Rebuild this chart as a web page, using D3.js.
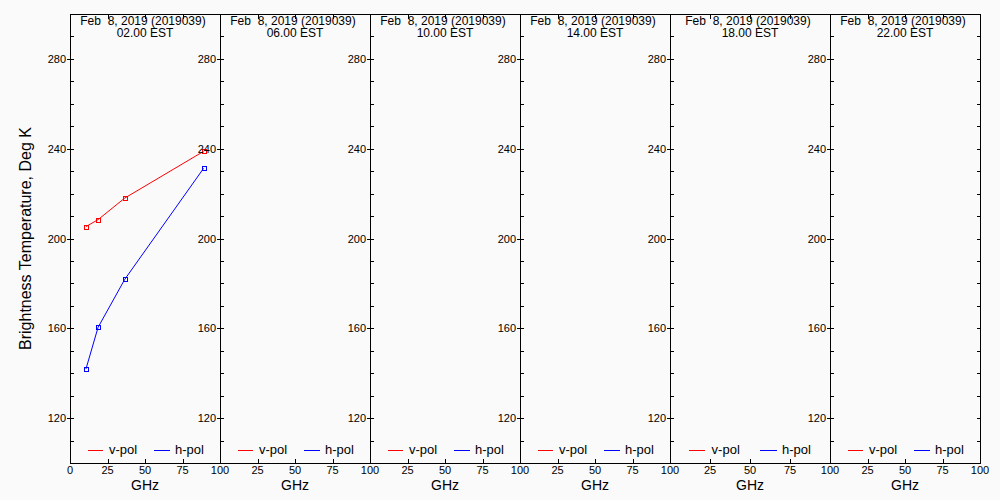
<!DOCTYPE html>
<html>
<head>
<meta charset="utf-8">
<script src="https://cdnjs.cloudflare.com/ajax/libs/d3/7.8.5/d3.min.js"></script>
<style>
  body { margin: 0; background: #fafafa; }
  text { font-family: "Liberation Sans", Arial, sans-serif; fill: #000; }
</style>
</head>
<body>
<svg id="chart"></svg>
<script>
// data
var dateLabel = "Feb  8, 2019 (2019039)";
var times = ["02.00 EST", "06.00 EST", "10.00 EST", "14.00 EST", "18.00 EST", "22.00 EST"];
var freqs = [10.65, 18.7, 36.5, 89.0];
var vpol = [205.3, 208.4, 218.0, 238.8];
var hpol = [141.9, 160.4, 181.8, 231.2];
// only the first time slot has observations
var panelHasData = [true, false, false, false, false, false];
var xTicks = [0, 25, 50, 75, 100];
var yMajor = [120, 160, 200, 240, 280];

// basic settings
var width = 1000;
var height = 500;
var yTop = 14, yBot = 463;
var edges = [70, 220, 370, 520, 670, 830, 980];

var svg = d3.select("#chart")
    .attr("width", width)
    .attr("height", height);

svg.append("rect")
    .attr("width", width).attr("height", height)
    .attr("fill", "#fafafa");

var y = d3.scaleLinear().domain([100, 300]).range([yBot, yTop]);
var yMinor = d3.range(110, 300, 10);

times.forEach(function(t, i) {
    var x0 = edges[i], x1 = edges[i + 1];
    var x = d3.scaleLinear().domain([0, 100]).range([x0, x1]);
    var g = svg.append("g").attr("shape-rendering", "crispEdges");

    // frame lines
    g.append("line").attr("x1", x0 + 0.5).attr("x2", x0 + 0.5)
        .attr("y1", yTop).attr("y2", yBot + 1).attr("stroke", "#000");
    g.append("line").attr("x1", x0).attr("x2", x1 + 1)
        .attr("y1", yTop + 0.5).attr("y2", yTop + 0.5).attr("stroke", "#000");
    g.append("line").attr("x1", x0).attr("x2", x1 + 1)
        .attr("y1", yBot + 0.5).attr("y2", yBot + 0.5).attr("stroke", "#000");
    if (i == times.length - 1) {
        g.append("line").attr("x1", x1 + 0.5).attr("x2", x1 + 0.5)
            .attr("y1", yTop).attr("y2", yBot + 1).attr("stroke", "#000");
    }

    // y ticks on left axis (major ones cross the axis)
    g.selectAll(".ymin").data(yMinor).enter().append("line")
        .attr("x1", x0 + 4)
        .attr("x2", function(d) { return yMajor.indexOf(d) >= 0 ? x0 - 3 : x0; })
        .attr("y1", function(d) { return Math.round(y(d)) + 0.5; })
        .attr("y2", function(d) { return Math.round(y(d)) + 0.5; })
        .attr("stroke", "#000");
    if (i == times.length - 1) {
        g.selectAll(".yr").data(yMinor).enter().append("line")
            .attr("x1", x1 - 3).attr("x2", x1)
            .attr("y1", function(d) { return Math.round(y(d)) + 0.5; })
            .attr("y2", function(d) { return Math.round(y(d)) + 0.5; })
            .attr("stroke", "#000");
    }
    svg.selectAll(null).data(yMajor).enter().append("text")
        .attr("x", x0 - 4)
        .attr("y", function(d) { return y(d) + 4; })
        .attr("text-anchor", "end")
        .style("font-size", "11px")
        .text(function(d) { return d; });

    // x ticks top and bottom
    g.selectAll(".xt").data([25, 50, 75]).enter().append("line")
        .attr("x1", function(d) { return Math.round(x(d)) + 0.5; })
        .attr("x2", function(d) { return Math.round(x(d)) + 0.5; })
        .attr("y1", yTop).attr("y2", yTop + 5).attr("stroke", "#000");
    g.selectAll(".xb").data([25, 50, 75]).enter().append("line")
        .attr("x1", function(d) { return Math.round(x(d)) + 0.5; })
        .attr("x2", function(d) { return Math.round(x(d)) + 0.5; })
        .attr("y1", yBot - 4).attr("y2", yBot).attr("stroke", "#000");
    svg.selectAll(null).data(i == 0 ? xTicks : xTicks.slice(1)).enter().append("text")
        .attr("x", function(d) { return x(d); })
        .attr("y", 474)
        .attr("text-anchor", "middle")
        .style("font-size", "11px")
        .text(function(d) { return d; });
    svg.append("text")
        .attr("x", (x0 + x1) / 2).attr("y", 490)
        .attr("text-anchor", "middle")
        .style("font-size", "14px")
        .text("GHz");

    // titles
    svg.append("text")
        .attr("x", (x0 + x1) / 2 - 2).attr("y", 25)
        .attr("text-anchor", "middle")
        .style("font-size", "12px")
        .style("white-space", "pre")
        .text(dateLabel);
    svg.append("text")
        .attr("x", (x0 + x1) / 2).attr("y", 37)
        .attr("text-anchor", "middle")
        .style("font-size", "12px")
        .text(t);

    // legend
    var w = x1 - x0;
    var ly = 450;
    var legend = [{name: "v-pol", color: "#ff0000", a: 0.12, b: 0.22, t: 0.26},
                  {name: "h-pol", color: "#0000ff", a: 0.56, b: 0.667, t: 0.70}];
    legend.forEach(function(l) {
        svg.append("line")
            .attr("x1", x0 + w * l.a).attr("x2", x0 + w * l.b)
            .attr("y1", ly + 0.5).attr("y2", ly + 0.5)
            .attr("stroke", l.color).attr("shape-rendering", "crispEdges");
        svg.append("text")
            .attr("x", x0 + w * l.t).attr("y", ly + 4)
            .style("font-size", "13px")
            .text(l.name);
    });

    // data lines
    if (panelHasData[i]) {
        var line = d3.line()
            .x(function(d) { return x(d[0]); })
            .y(function(d) { return y(d[1]); });
        [[vpol, "#ff0000"], [hpol, "#0000ff"]].forEach(function(s) {
            var pts = freqs.map(function(f, k) { return [f, s[0][k]]; });
            svg.append("path")
                .datum(pts)
                .attr("d", line)
                .attr("fill", "none")
                .attr("stroke", s[1])
                .attr("stroke-width", 1);
            svg.selectAll(null).data(pts).enter().append("rect")
                .attr("x", function(d) { return Math.round(x(d[0])) - 2 + 0.5; })
                .attr("y", function(d) { return Math.round(y(d[1])) - 2 + 0.5; })
                .attr("width", 4).attr("height", 4)
                .attr("fill", "none")
                .attr("stroke", s[1])
                .attr("shape-rendering", "crispEdges");
        });
    }
});

// y axis title
svg.append("text")
    .attr("transform", "translate(31," + ((yTop + yBot) / 2) + ") rotate(-90)")
    .attr("text-anchor", "middle")
    .style("font-size", "16px")
    .text("Brightness Temperature, Deg K");
</script>
</body>
</html>
